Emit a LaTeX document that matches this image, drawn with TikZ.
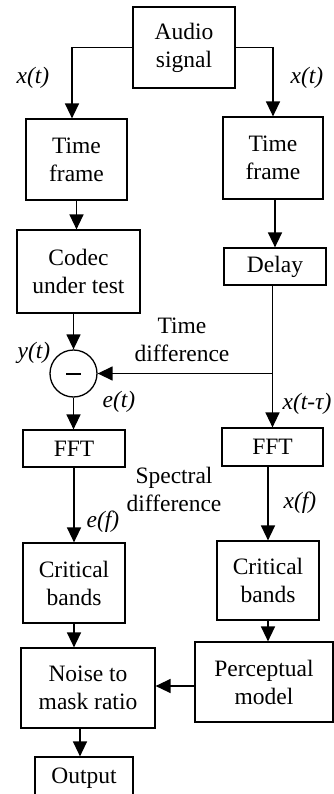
\documentclass[tikz,border=0pt]{standalone}
\usepackage{fontspec}
\setmainfont{Liberation Serif}
\usetikzlibrary{arrows.meta}
\newcommand\blockfont{\fontsize{23.5}{28}\selectfont}
\begin{document}
\begin{tikzpicture}[x=1pt,y=-1pt,
  box/.style={draw, line width=1.2pt, align=center, inner sep=0pt, font=\blockfont},
  sum/.style={draw, circle, line width=1.3pt, inner sep=0pt, minimum size=47pt},
  arr/.style={line width=1.4pt, -{Triangle[length=15pt,width=14pt]}},
  lbl/.style={inner sep=0pt, font=\blockfont\itshape},
  note/.style={inner sep=0pt, align=center, font=\blockfont}]
\clip (0,0) rectangle (334,794);
\useasboundingbox (0,0) rectangle (334,794);

% blocks
\node[box, minimum width=102pt, minimum height=81pt] (audio) at (184,47.5) {Audio\\signal};
\node[box, minimum width=101pt, minimum height=81pt] (tf1) at (76.5,159.5) {Time\\frame};
\node[box, minimum width=100pt, minimum height=82pt] (tf2) at (273,158) {Time\\frame};
\node[box, minimum width=123pt, minimum height=83pt] (codec) at (78.5,271.5) {Codec\\under test};
\node[box, minimum width=102pt, minimum height=37pt] (delay) at (275,266.5) {Delay};
\node[sum] (circ) at (73.5,373.5) {};
\draw[line width=2pt] ([xshift=-7.5pt]circ.center) -- ([xshift=7.5pt]circ.center);
\node[box, minimum width=102pt, minimum height=37pt] (fft1) at (74,448.5) {FFT};
\node[box, minimum width=101pt, minimum height=38pt] (fft2) at (272.5,447) {FFT};
\node[box, minimum width=102pt, minimum height=80pt] (cb1) at (74,583) {Critical\\bands};
\node[box, minimum width=102pt, minimum height=79pt] (cb2) at (268,580.5) {Critical\\bands};
\node[box, minimum width=134pt, minimum height=80pt] (nmr) at (88,688) {Noise to\\mask ratio};
\node[box, minimum width=138pt, minimum height=80pt] (percep) at (264,682) {Perceptual\\model};
\node[box, minimum width=98pt, minimum height=42pt] (out) at (84,778) {Output};

% connectors
\draw[arr] (audio.west) -| ([xshift=-4.5pt]tf1.north);
\draw[arr] (audio.east) -| (tf2.north);
\draw[arr] (tf1.south) -- (tf1.south |- codec.north);
\draw[arr] (delay.north |- tf2.south) -- (delay.north);
\draw[arr] (circ.north |- codec.south) -- (circ.north);
\draw[arr] (fft2.north |- delay.south) -- (fft2.north);
\coordinate (branch) at (fft2.north |- circ.east);
\draw[arr] (branch) -- (circ.east);
\draw[arr] (circ.south) -- (circ.south |- fft1.north);
\draw[arr] (fft1.south) -- (fft1.south |- cb1.north);
\draw[arr] (cb2.north |- fft2.south) -- (cb2.north);
\draw[arr] (cb1.south) -- (cb1.south |- nmr.north);
\draw[arr] (cb2.south) -- (cb2.south |- percep.north);
\draw[arr] ([yshift=2pt]nmr.east -| percep.west) -- ([yshift=2pt]nmr.east);
\draw[arr] ([xshift=-4pt]out.north |- nmr.south) -- ([xshift=-4pt]out.north);

% signal labels
\node[lbl] (xl) at (33,78) {x(t)};
\node[lbl] (xr) at (307,78) {x(t)};
\node[lbl] (yt) at (34,353) {y(t)};
\node[lbl] (et) at (119,402) {e(t)};
\node[lbl] (xd) at (307,404) {x(t-τ)};
\node[lbl] (xf) at (300,503) {x(f)};
\node[lbl] (ef) at (103,522) {e(f)};
\node[note] (tdiff) at (182,339.5) {Time\\difference};
\node[note] (sdiff) at (174,489) {Spectral\\difference};
\end{tikzpicture}
\end{document}
